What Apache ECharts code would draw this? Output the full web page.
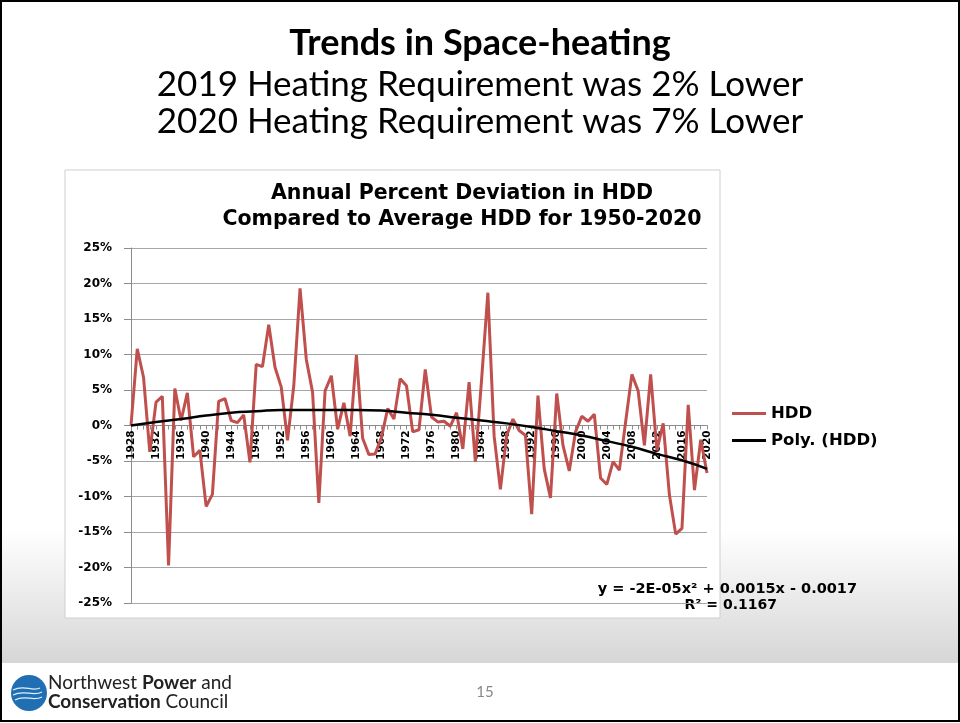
<!DOCTYPE html>
<html><head><meta charset="utf-8">
<script src="https://cdn.jsdelivr.net/npm/echarts@6/dist/echarts.min.js"></script>
<style>html,body{margin:0;padding:0;background:#fff}#c{width:960px;height:723px}</style>
</head><body><div id="c"></div>
<script>
// ---- data ----
const years = [];
for (let y = 1928; y <= 2020; y++) years.push(String(y));
const hdd = [
  0.0, 10.8, 6.8, -3.7, 3.3, 4.1, -19.7, 5.2, 0.7, 4.6,
  -4.4, -3.5, -11.4, -9.7, 3.4, 3.8, 0.7, 0.4, 1.5, -5.2,
  8.6, 8.3, 14.2, 8.2, 5.4, -2.1, 5.6, 19.3, 9.3, 4.7,
  -10.9, 4.9, 7.0, -0.5, 3.2, -1.5, 9.9, -1.8, -4.1, -4.0,
  -1.7, 2.4, 0.9, 6.6, 5.6, -0.9, -0.6, 7.9, 1.2, 0.5,
  0.6, -0.1, 1.8, -3.3, 6.1, -5.1, 6.5, 18.7, -1.5, -9.0,
  -1.4, 0.9, -0.7, -1.4, -12.5, 4.2, -6.1, -10.2, 4.5, -2.8,
  -6.4, -0.9, 1.3, 0.6, 1.6, -7.4, -8.3, -5.1, -6.3, 0.5,
  7.2, 4.9, -2.8, 7.2, -3.5, 0.3, -9.8, -15.3, -14.5, 2.9,
  -9.1, -2.0, -6.7
];
const trendYears = ['1928','1932','1936','1940','1944','1948','1952','1956','1960','1964','1968','1972','1976','1980','1984','1988','1992','1996','2000','2004','2008','2012','2016','2020'];
const trendValues = [0.0, 0.5, 0.9, 1.4, 1.8, 2.0, 2.2, 2.2, 2.2, 2.2, 2.1, 1.8, 1.5, 1.1, 0.7, 0.3, -0.2, -0.8, -1.4, -2.2, -3.0, -4.0, -4.9, -6.1];
const yTicks = { min: -25, max: 25, step: 5 };
const seriesNames = ['HDD', 'Poly. (HDD)'];

const chart = echarts.init(document.getElementById('c'));
const F = 'DejaVu Sans';
const gridTop = 248, gridBottom = 120, plotH = 723 - gridTop - gridBottom;
chart.setOption({
  animation: false,
  backgroundColor: '#ffffff',
  graphic: [
    { type: 'rect', z: -10, shape: { x: 0, y: 530, width: 960, height: 133 },
      style: { fill: new echarts.graphic.LinearGradient(0, 0, 0, 1, [{ offset: 0, color: '#ffffff' }, { offset: 1, color: '#d6d6d6' }]) } },
    { type: 'rect', z: -9, shape: { x: 65, y: 170, width: 655, height: 448 },
      style: { fill: '#ffffff', stroke: '#cfcfcf', lineWidth: 1 } },
    { type: 'rect', z: 100, shape: { x: 1, y: 1, width: 958, height: 720 },
      style: { fill: 'none', stroke: '#000', lineWidth: 2 } },
    { type: 'text', left: 'center', top: 25, style: { text: 'Trends in Space-heating', font: 'bold 36px Lato', fill: '#000' } },
    { type: 'text', left: 'center', top: 67, style: { text: '2019 Heating Requirement was 2% Lower', font: '35px Lato', fill: '#000' } },
    { type: 'text', left: 'center', top: 104, style: { text: '2020 Heating Requirement was 7% Lower', font: '35px Lato', fill: '#000' } },
    { type: 'text', x: 462, y: 181, style: { text: 'Annual Percent Deviation in HDD\nCompared to Average HDD for 1950-2020', font: 'bold 20.5px "DejaVu Sans"', fill: '#000', align: 'center', lineHeight: 26 } },
    { type: 'text', x: 857, y: 582, style: { text: 'y = -2E-05x² + 0.0015x - 0.0017', font: 'bold 14.5px "DejaVu Sans"', fill: '#000', align: 'right' } },
    { type: 'text', x: 777, y: 598, style: { text: 'R² = 0.1167', font: 'bold 14px "DejaVu Sans"', fill: '#000', align: 'right' } },
    { type: 'text', x: 485, y: 685, style: { text: '15', font: '15px Lato', fill: '#888', align: 'center' } },
    { type: 'circle', shape: { cx: 29, cy: 693, r: 18 }, style: { fill: '#1f6fb2' } },
    { type: 'bezierCurve', shape: { x1: 13, y1: 690, x2: 40, y2: 688, cpx1: 24, cpy1: 684, cpx2: 32, cpy2: 692 }, style: { stroke: '#dfefff', lineWidth: 1.3, fill: 'none' } },
    { type: 'bezierCurve', shape: { x1: 13, y1: 695, x2: 42, y2: 692, cpx1: 24, cpy1: 689, cpx2: 33, cpy2: 697 }, style: { stroke: '#dfefff', lineWidth: 1.3, fill: 'none' } },
    { type: 'bezierCurve', shape: { x1: 15, y1: 700, x2: 42, y2: 697, cpx1: 25, cpy1: 694, cpx2: 33, cpy2: 702 }, style: { stroke: '#dfefff', lineWidth: 1.3, fill: 'none' } },
    { type: 'text', x: 48, y: 673, style: { rich: { a: { font: '19px Lato', fill: '#222' }, b: { font: 'bold 19px Lato', fill: '#222' } }, text: '{a|Northwest }{b|Power}{a| and}' } },
    { type: 'text', x: 48, y: 692, style: { rich: { a: { font: '19px Lato', fill: '#222' }, b: { font: 'bold 19px Lato', fill: '#222' } }, text: '{b|Conservation}{a| Council}' } }
  ],
  legend: {
    orient: 'vertical', left: 727, top: 400, itemGap: 10,
    itemWidth: 34, itemHeight: 3, icon: 'rect',
    textStyle: { fontFamily: F, fontWeight: 'bold', fontSize: 16.5, color: '#000' },
    data: seriesNames
  },
  grid: { left: 131, right: 253, top: gridTop, bottom: gridBottom },
  xAxis: {
    type: 'category', data: years, boundaryGap: false,
    offset: -plotH / 2,
    axisLine: { onZero: false, lineStyle: { color: '#8c8c8c', width: 1 } },
    axisTick: { show: true, interval: 0, length: 4, lineStyle: { color: '#8c8c8c' } },
    axisLabel: { interval: 3, rotate: 90, margin: 5, fontFamily: F, fontWeight: 'bold', fontSize: 10.5, color: '#000' },
    splitLine: { show: false }
  },
  yAxis: {
    type: 'value', min: yTicks.min, max: yTicks.max, interval: yTicks.step,
    axisLine: { show: true, lineStyle: { color: '#8c8c8c' } },
    axisTick: { show: true, length: 7, lineStyle: { color: '#8c8c8c' } },
    axisLabel: { formatter: '{value}%', margin: 19, fontFamily: F, fontWeight: 'bold', fontSize: 12, color: '#000' },
    splitLine: { lineStyle: { color: '#a6a6a6', width: 1 } }
  },
  series: [
    { name: seriesNames[0], type: 'line', data: hdd, showSymbol: false, symbol: 'none',
      lineStyle: { color: '#C0504D', width: 3 }, itemStyle: { color: '#C0504D' }, z: 2 },
    { name: seriesNames[1], type: 'line', data: trendYears.map((y, i) => [y, trendValues[i]]), smooth: true,
      showSymbol: false, symbol: 'none', lineStyle: { color: '#000', width: 2.5 }, itemStyle: { color: '#000' }, z: 3 }
  ]
});
</script></body></html>
